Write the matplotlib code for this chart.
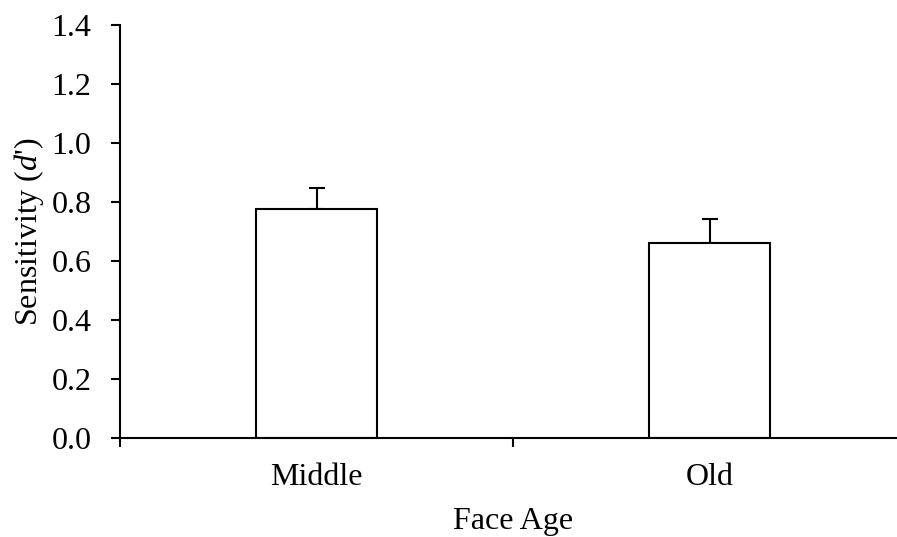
import numpy as np
import matplotlib.pyplot as plt

plt.rcParams['font.family'] = ['Liberation Serif', 'DejaVu Serif']
plt.rcParams['mathtext.fontset'] = 'custom'
plt.rcParams['mathtext.it'] = 'Liberation Serif:italic'
plt.rcParams['mathtext.rm'] = 'Liberation Serif'

categories = ["Middle", "Old"]
means = [0.776, 0.661]
errors = [0.071, 0.081]

fig = plt.figure(figsize=(8.97, 5.37), dpi=100)
ax = fig.add_axes([120 / 897, 1 - 438 / 537, 786 / 897, 413 / 537])

x = np.arange(len(categories)) + 0.5
ax.bar(x, means, width=0.31, color="white", edgecolor="black", linewidth=1.5, zorder=2)
ax.errorbar(x, means, yerr=[np.zeros(len(errors)), errors], fmt="none",
            ecolor="black", elinewidth=1.5, capsize=6, capthick=1.5, zorder=1)

ax.set_xlim(0, 2)
ax.set_ylim(0, 1.4)
ax.set_yticks(np.arange(0, 1.41, 0.2))
ax.set_yticklabels(["%.1f" % v for v in np.arange(0, 1.41, 0.2)])
ax.set_xticks([0, 1, 2])
ax.set_xticklabels([])
ax.set_xticks(x, minor=True)
ax.set_xticklabels(categories, minor=True)

for s in ["top", "right"]:
    ax.spines[s].set_visible(False)
for s in ["left", "bottom"]:
    ax.spines[s].set_linewidth(1.5)

ax.tick_params(axis="both", which="major", direction="out", length=6.5, width=1.5,
               labelsize=23, pad=14)
ax.tick_params(axis="x", which="minor", length=0, labelsize=23, pad=18)

ax.set_ylabel("Sensitivity ($d$')", fontsize=23, labelpad=4)
ax.set_xlabel("Face Age", fontsize=23, labelpad=11)

fig.savefig("out.png", dpi=100)
